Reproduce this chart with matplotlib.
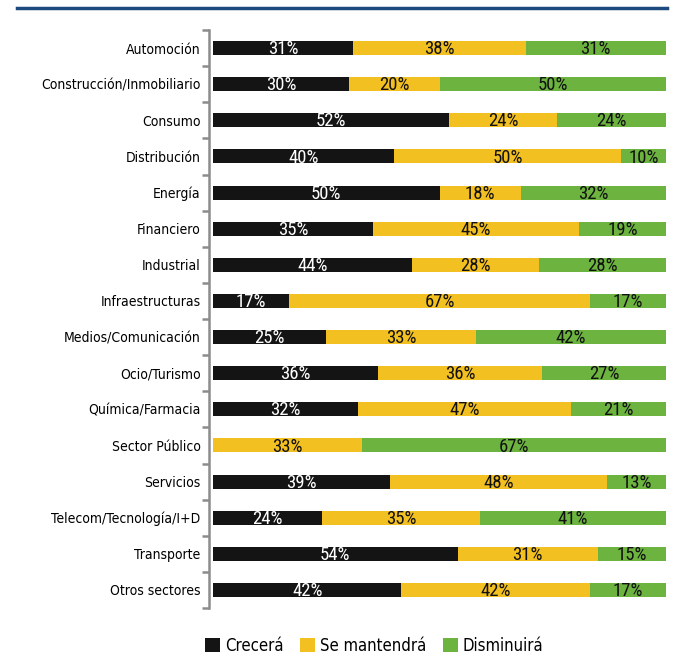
import matplotlib
matplotlib.use("Agg")
import matplotlib.pyplot as plt
from matplotlib.patches import Patch
from matplotlib.lines import Line2D
from matplotlib.font_manager import FontProperties
import numpy as np

plt.rcParams["font.family"] = ["DejaVu Sans"]
plt.rcParams["font.stretch"] = "condensed"

sectors = [
    "Automoción", "Construcción/Inmobiliario", "Consumo", "Distribución",
    "Energía", "Financiero", "Industrial", "Infraestructuras",
    "Medios/Comunicación", "Ocio/Turismo", "Química/Farmacia", "Sector Público",
    "Servicios", "Telecom/Tecnología/I+D", "Transporte", "Otros sectores",
]
crecera = [31, 30, 52, 40, 50, 35, 44, 17, 25, 36, 32, 0, 39, 24, 54, 42]
mantendra = [38, 20, 24, 50, 18, 45, 28, 67, 33, 36, 47, 33, 48, 35, 31, 42]
disminuira = [31, 50, 24, 10, 32, 19, 28, 17, 42, 27, 21, 67, 13, 41, 15, 17]
series_names = ["Crecerá", "Se mantendrá", "Disminuirá"]

colors = ["#141414", "#f3c022", "#6cb43f"]
text_colors = ["white", "#111111", "#111111"]

label_font = FontProperties(family="DejaVu Sans", stretch="condensed", size=14.5)
value_font = FontProperties(family=["Roboto Condensed", "DejaVu Sans"], size=13.5)
legend_font = FontProperties(family="DejaVu Sans", stretch="condensed", size=12)

fig = plt.figure(figsize=(6.73, 6.55), dpi=100)
ax = fig.add_axes([213 / 673, 1 - 608 / 655, (666 - 213) / 673, (608 - 30) / 655])

data = np.array([crecera, mantendra, disminuira], dtype=float)
totals = data.sum(axis=0)
shares = data / totals * 100
y = np.arange(len(sectors))
left = np.zeros(len(sectors))
for k in range(3):
    ax.barh(y, shares[k], left=left, height=0.39, color=colors[k], edgecolor="none")
    for i in range(len(sectors)):
        if data[k, i] > 0:
            ax.text(left[i] + shares[k, i] / 2, y[i] + 0.03, f"{int(data[k, i])}%",
                    ha="center", va="center", fontproperties=value_font, color=text_colors[k])
    left += shares[k]

ax.set_xlim(0, 100)
ax.set_ylim(len(sectors) - 0.5, -0.5)
ax.set_yticks(y)
ax.set_yticklabels(sectors, fontproperties=label_font)
ax.tick_params(axis="y", which="major", length=0, pad=6)
ax.set_yticks(np.arange(-0.5, len(sectors)), minor=True)
ax.tick_params(axis="y", which="minor", length=5, width=1.8, color="#8c8c8c")
ax.set_xticks([])
for s in ["top", "right", "bottom"]:
    ax.spines[s].set_visible(False)
ax.spines["left"].set_color("#8c8c8c")
ax.spines["left"].set_linewidth(1.8)
ax.spines["left"].set_position(("outward", 3))

# Rule across the top
fig.add_artist(Line2D([17 / 673, 667 / 673], [1 - 8 / 655, 1 - 8 / 655],
                      color="#1c4a7e", linewidth=2.5))

handles = [Patch(facecolor=c, edgecolor="none") for c in colors]
fig.legend(handles, series_names, loc="center", bbox_to_anchor=(374 / 673, 1 - 646 / 655),
           ncol=3, frameon=False, prop=legend_font, handlelength=0.9, handleheight=0.9,
           handletextpad=0.3, columnspacing=1.0, borderpad=0, borderaxespad=0)

fig.savefig("out.png", dpi=100)
